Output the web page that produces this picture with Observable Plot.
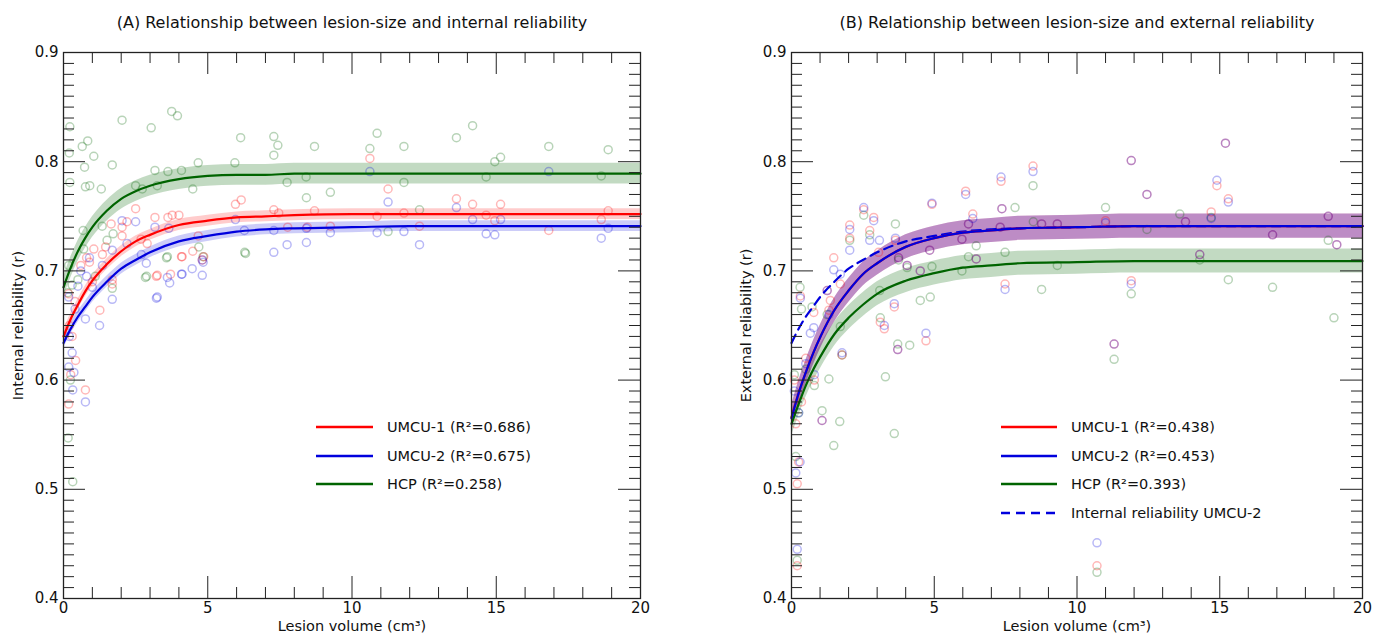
<!DOCTYPE html>
<html><head><meta charset="utf-8">
<script src="https://cdn.jsdelivr.net/npm/d3@7"></script>
<script src="https://cdn.jsdelivr.net/npm/@observablehq/plot@0.6"></script>
<style>
html,body{margin:0;padding:0;background:#fff;}
#wrap{position:relative;width:1373px;height:634px;display:flex;font-family:"DejaVu Sans",sans-serif;}
#wrap svg{display:block;}
#overlay{position:absolute;left:0;top:0;pointer-events:none;}
</style></head><body><div id="wrap"></div>
<script>
// ---------- data ----------
const titles = ["(A) Relationship between lesion-size and internal reliability",
                "(B) Relationship between lesion-size and external reliability"];
const xLabel = "Lesion volume (cm³)";
const yLabels = ["Internal reliability (r)", "External reliability (r)"];
const xTickLabels = [0, 5, 10, 15, 20];
const yTickLabels = [0.4, 0.5, 0.6, 0.7, 0.8, 0.9];

const legendA = ["UMCU-1 (R²=0.686)", "UMCU-2 (R²=0.675)", "HCP (R²=0.258)"];
const legendB = ["UMCU-1 (R²=0.438)", "UMCU-2 (R²=0.453)", "HCP (R²=0.393)", "Internal reliability UMCU-2"];

// scatter: [lesion volume, reliability]
const intUMCU1 = [[2.5,0.757],[3.17,0.749],[3.62,0.749],[3.77,0.751],[4.0,0.751],[1.65,0.743],[2.03,0.740],[2.03,0.732],[2.69,0.729],[1.46,0.722],[1.05,0.720],[5.96,0.761],[6.16,0.765],[7.29,0.756],[7.46,0.753],[8.7,0.755],[8.45,0.740],[7.77,0.740],[9.25,0.741],[4.11,0.713],[4.48,0.718],[4.67,0.732],[4.86,0.713],[3.25,0.696],[3.71,0.697],[1.26,0.664],[1.69,0.688],[0.42,0.618],[0.76,0.591],[0.18,0.578],[1.69,0.692],[3.22,0.695],[4.09,0.713],[4.81,0.710],[0.18,0.679],[10.62,0.803],[10.87,0.750],[11.8,0.753],[11.25,0.775],[12.34,0.741],[13.62,0.766],[14.18,0.761],[14.65,0.751],[14.95,0.746],[15.15,0.761],[16.82,0.737],[18.88,0.755],[18.64,0.747],[0.3,0.640],[0.25,0.605],[0.6,0.705],[0.8,0.712],[0.9,0.708],[0.4,0.672],[1.0,0.690],[1.35,0.715],[2.2,0.745],[2.9,0.725],[0.2,0.650]];
const intUMCU2 = [[2.03,0.746],[2.5,0.745],[3.17,0.740],[3.65,0.739],[1.69,0.719],[2.87,0.707],[3.25,0.676],[3.6,0.694],[4.11,0.697],[4.46,0.702],[4.81,0.696],[4.84,0.708],[1.69,0.674],[5.96,0.747],[6.27,0.737],[7.29,0.737],[7.29,0.717],[7.75,0.724],[8.42,0.726],[8.42,0.739],[9.25,0.735],[0.18,0.612],[0.36,0.607],[0.32,0.591],[0.76,0.580],[1.25,0.650],[0.76,0.656],[3.22,0.675],[3.68,0.689],[4.09,0.697],[4.81,0.710],[0.18,0.676],[10.62,0.791],[10.87,0.735],[11.8,0.736],[11.25,0.763],[12.34,0.724],[13.62,0.758],[14.18,0.747],[14.65,0.734],[14.95,0.733],[15.15,0.747],[16.82,0.791],[18.88,0.739],[18.64,0.730],[0.6,0.700],[0.8,0.695],[0.4,0.665],[1.0,0.685],[1.35,0.705],[0.2,0.640],[0.9,0.712],[2.2,0.725],[2.7,0.715],[0.5,0.686],[0.3,0.625]];
const intHCP = [[0.22,0.832],[0.84,0.819],[0.65,0.814],[1.05,0.805],[0.73,0.795],[1.69,0.797],[0.22,0.781],[0.76,0.777],[0.91,0.778],[1.31,0.775],[2.03,0.838],[3.04,0.831],[2.5,0.778],[2.73,0.775],[3.25,0.778],[3.17,0.792],[3.62,0.791],[3.75,0.846],[3.95,0.842],[4.09,0.792],[4.67,0.799],[4.48,0.775],[6.14,0.822],[5.94,0.799],[7.29,0.823],[7.43,0.815],[7.29,0.806],[8.7,0.814],[7.75,0.781],[8.41,0.786],[9.25,0.772],[8.42,0.767],[6.28,0.717],[3.6,0.713],[2.88,0.695],[1.72,0.734],[1.51,0.728],[1.34,0.741],[0.68,0.737],[4.69,0.722],[4.84,0.713],[1.69,0.684],[0.7,0.720],[10.62,0.812],[10.87,0.826],[11.8,0.814],[11.8,0.781],[11.25,0.736],[12.34,0.756],[13.62,0.822],[14.18,0.833],[14.65,0.786],[14.95,0.800],[15.15,0.804],[16.82,0.814],[18.88,0.811],[18.64,0.787],[0.24,0.600],[0.16,0.547],[0.32,0.507],[0.18,0.705],[0.2,0.808],[0.15,0.680],[0.3,0.687],[2.84,0.694],[3.57,0.712],[6.31,0.716],[1.1,0.695],[0.5,0.692]];

const extUMCU1 = [[2.53,0.756],[4.92,0.761],[2.88,0.749],[2.04,0.742],[2.04,0.730],[2.74,0.737],[3.64,0.728],[3.05,0.717],[1.48,0.712],[1.71,0.688],[1.25,0.682],[0.31,0.677],[1.36,0.673],[0.78,0.662],[1.31,0.664],[1.77,0.623],[1.07,0.563],[3.11,0.653],[3.25,0.647],[3.6,0.667],[3.72,0.628],[4.71,0.636],[4.05,0.705],[4.51,0.700],[4.84,0.719],[3.75,0.712],[5.97,0.729],[6.47,0.711],[6.35,0.752],[6.2,0.743],[7.37,0.757],[7.48,0.688],[7.31,0.740],[8.76,0.743],[9.31,0.743],[8.46,0.796],[7.34,0.782],[6.1,0.773],[11.9,0.801],[12.45,0.770],[14.9,0.778],[15.2,0.817],[15.3,0.766],[11.3,0.633],[11.9,0.691],[14.3,0.715],[14.7,0.754],[16.85,0.733],[18.8,0.750],[19.1,0.724],[11.0,0.746],[13.8,0.745],[10.7,0.430],[0.2,0.505],[0.25,0.525],[0.15,0.56],[0.35,0.58],[0.1,0.60],[0.2,0.43],[0.8,0.60],[0.5,0.62]];
const extUMCU2 = [[2.53,0.758],[4.92,0.762],[2.88,0.746],[2.04,0.738],[2.04,0.719],[2.74,0.728],[3.08,0.728],[3.64,0.730],[1.48,0.701],[1.71,0.697],[1.25,0.682],[0.31,0.675],[0.78,0.648],[0.66,0.643],[1.31,0.660],[1.77,0.625],[1.07,0.563],[3.6,0.670],[3.72,0.628],[4.71,0.643],[4.05,0.705],[4.51,0.700],[4.84,0.719],[3.75,0.712],[5.97,0.729],[6.47,0.711],[6.35,0.748],[6.2,0.743],[7.37,0.757],[7.48,0.683],[7.31,0.740],[8.76,0.743],[9.31,0.743],[8.46,0.791],[7.34,0.786],[6.1,0.770],[11.9,0.801],[12.45,0.770],[14.9,0.783],[15.2,0.817],[15.3,0.763],[11.3,0.633],[11.9,0.688],[14.3,0.715],[14.7,0.748],[16.85,0.733],[18.8,0.750],[19.1,0.724],[11.0,0.744],[13.8,0.745],[10.7,0.451],[0.2,0.445],[0.3,0.525],[0.15,0.515],[0.25,0.57],[0.1,0.59],[0.8,0.605],[0.5,0.615],[3.25,0.650]];
const extHCP = [[2.04,0.728],[3.64,0.743],[2.74,0.733],[3.09,0.682],[3.11,0.657],[3.29,0.603],[3.72,0.633],[4.14,0.632],[3.6,0.551],[4.51,0.673],[4.86,0.676],[4.05,0.703],[4.92,0.704],[3.75,0.710],[6.47,0.723],[6.2,0.713],[7.83,0.758],[7.48,0.717],[8.47,0.745],[9.31,0.705],[8.76,0.683],[8.46,0.778],[0.72,0.667],[1.71,0.649],[1.77,0.623],[1.31,0.601],[1.07,0.572],[1.69,0.562],[1.48,0.540],[11.3,0.619],[11.9,0.679],[15.3,0.692],[14.3,0.710],[14.7,0.749],[16.85,0.685],[18.8,0.728],[19.0,0.657],[11.0,0.758],[13.6,0.752],[10.7,0.424],[12.45,0.738],[0.2,0.435],[0.15,0.53],[0.25,0.57],[0.1,0.605],[0.3,0.685],[0.35,0.665],[0.5,0.61],[0.8,0.595],[2.53,0.751],[5.97,0.70],[1.25,0.66]];

// fitted curves, read at these lesion volumes
const fitX = [0,0.25,0.5,0.75,1,1.5,2,2.5,3,4,5,6,7,8,10,12,14,17,20];
const fitIntUMCU1 = [0.640,0.656,0.669,0.681,0.691,0.706,0.718,0.727,0.733,0.742,0.746,0.749,0.750,0.751,0.752,0.752,0.752,0.752,0.752];
const fitIntUMCU2 = [0.634,0.647,0.658,0.667,0.676,0.690,0.702,0.710,0.717,0.727,0.732,0.736,0.738,0.739,0.740,0.741,0.741,0.741,0.741];
const fitIntHCP   = [0.685,0.703,0.718,0.730,0.740,0.755,0.766,0.773,0.778,0.784,0.787,0.788,0.788,0.789,0.789,0.789,0.789,0.789,0.789];
const fitExtUMCU1 = [0.566,0.588,0.607,0.624,0.639,0.664,0.682,0.697,0.707,0.722,0.730,0.735,0.737,0.739,0.740,0.741,0.741,0.741,0.741];
const fitExtUMCU2 = [0.565,0.588,0.607,0.624,0.639,0.664,0.682,0.697,0.707,0.722,0.730,0.735,0.737,0.739,0.740,0.741,0.741,0.741,0.741];
const fitExtHCP   = [0.560,0.578,0.595,0.609,0.621,0.642,0.657,0.669,0.679,0.691,0.698,0.703,0.705,0.707,0.708,0.709,0.709,0.709,0.709];
// half-width of the shaded confidence bands
const bandIntUMCU1 = 0.005, bandIntUMCU2 = 0.005, bandIntHCP = 0.0095;
const bandExtUMCU1 = 0.011, bandExtUMCU2 = 0.011, bandExtHCP = 0.011;

// ---------- drawing ----------
const RED = "#ff0000", BLUE = "#0000dd", GREEN = "#006400";
const H = 634, MT = 52, MB = 36, FRAME_H = H - MT - MB;
const FONT = '"DejaVu Sans", sans-serif';

const toRows = ys => fitX.map((x, i) => ({x, y: ys[i]}));

function panel({width, ml, mr, title, ylabel, series, bandOpacity, dashed}) {
  const minorX = d3.range(1, 20).filter(v => v % 5 !== 0);
  const majorX = [5, 10, 15];
  const minorY = d3.range(41, 90).filter(v => v % 10 !== 0).map(v => v / 100);
  const majorY = [0.5, 0.6, 0.7, 0.8];
  const FW = width - ml - mr;
  const tick = "#222";
  const marks = [];
  for (const s of series) {
    marks.push(Plot.areaY(toRows(s.fit), {x: "x", y1: d => d.y - s.band, y2: d => d.y + s.band,
      fill: s.color, fillOpacity: bandOpacity[s.key], curve: "monotone-x"}));
  }
  for (const s of series) {
    marks.push(Plot.dot(s.pts, {x: d => d[0], y: d => d[1], r: 4, stroke: s.color,
      strokeOpacity: 0.28, strokeWidth: 1.5, fill: "none"}));
  }
  if (dashed) {
    marks.push(Plot.line(toRows(dashed.fit), {x: "x", y: "y", stroke: dashed.color, strokeWidth: 2.2,
      strokeDasharray: "9,6", curve: "monotone-x"}));
  }
  for (const s of series) {
    marks.push(Plot.line(toRows(s.fit), {x: "x", y: "y", stroke: s.color, strokeWidth: 2.2, curve: "monotone-x"}));
  }
  marks.push(
    // inward ticks on all four sides
    Plot.ruleX(minorX, {stroke: tick, insetTop: FRAME_H - 11}),
    Plot.ruleX(majorX, {stroke: tick, insetTop: FRAME_H - 22}),
    Plot.ruleX(minorX, {stroke: tick, insetBottom: FRAME_H - 11}),
    Plot.ruleX(majorX, {stroke: tick, insetBottom: FRAME_H - 22}),
    Plot.ruleY(minorY, {stroke: tick, insetRight: FW - 11}),
    Plot.ruleY(majorY, {stroke: tick, insetRight: FW - 22}),
    Plot.ruleY(minorY, {stroke: tick, insetLeft: FW - 11}),
    Plot.ruleY(majorY, {stroke: tick, insetLeft: FW - 22}),
    Plot.frame({stroke: tick, strokeWidth: 1.3}),
    Plot.axisX({ticks: xTickLabels, tickSize: 0, tickPadding: 4, label: null, fontSize: 15}),
    Plot.axisY({ticks: yTickLabels, tickSize: 0, tickPadding: 5, label: null, fontSize: 15, tickFormat: d3.format(".1f")}),
    Plot.text([title], {frameAnchor: "top", lineAnchor: "middle", dy: -30, fontSize: 16, fill: "#111"}),
    Plot.text([xLabel], {frameAnchor: "bottom", lineAnchor: "middle", dy: 28, fontSize: 14.5, fill: "#111"}),
    Plot.text([ylabel], {frameAnchor: "left", textAnchor: "middle", lineAnchor: "middle", dx: -45, rotate: -90, fontSize: 14.5, fill: "#111"})
  );
  return Plot.plot({
    width, height: H, marginLeft: ml, marginRight: mr, marginTop: MT, marginBottom: MB,
    x: {domain: [0, 20], axis: null},
    y: {domain: [0.4, 0.9], axis: null},
    style: {fontFamily: FONT, fontSize: "15px", background: "white", color: "#111", overflow: "visible"},
    marks
  });
}

const wrap = document.getElementById("wrap");
wrap.append(panel({
  width: 686, ml: 63, mr: 46, title: titles[0], ylabel: yLabels[0],
  bandOpacity: {u1: 0.2, u2: 0.2, hcp: 0.24},
  series: [
    {key: "hcp", pts: intHCP, fit: fitIntHCP, band: bandIntHCP, color: GREEN},
    {key: "u1", pts: intUMCU1, fit: fitIntUMCU1, band: bandIntUMCU1, color: RED},
    {key: "u2", pts: intUMCU2, fit: fitIntUMCU2, band: bandIntUMCU2, color: BLUE}
  ]
}));
wrap.append(panel({
  width: 687, ml: 105, mr: 11, title: titles[1], ylabel: yLabels[1],
  bandOpacity: {u1: 0.26, u2: 0.26, hcp: 0.24},
  series: [
    {key: "hcp", pts: extHCP, fit: fitExtHCP, band: bandExtHCP, color: GREEN},
    {key: "u1", pts: extUMCU1, fit: fitExtUMCU1, band: bandExtUMCU1, color: RED},
    {key: "u2", pts: extUMCU2, fit: fitExtUMCU2, band: bandExtUMCU2, color: BLUE}
  ],
  dashed: {fit: fitIntUMCU2, color: BLUE}
}));

// legends (overlay)
const ov = d3.select(wrap).append("svg").attr("id", "overlay").attr("width", 1373).attr("height", H)
  .style("font-family", FONT).style("font-size", "14.5px");
function legend(items, colors, dashes, x1, x2, tx, ys) {
  items.forEach((t, i) => {
    ov.append("line").attr("x1", x1).attr("x2", x2).attr("y1", ys[i]).attr("y2", ys[i])
      .attr("stroke", colors[i]).attr("stroke-width", 2.5).attr("stroke-dasharray", dashes[i] || null);
    ov.append("text").attr("x", tx).attr("y", ys[i]).attr("dy", "0.35em").attr("fill", "#111").text(t);
  });
}
legend(legendA, [RED, BLUE, GREEN], [], 316, 373, 387, [427, 456, 484]);
legend(legendB, [RED, BLUE, GREEN, BLUE], [null, null, null, "9,6"], 1001, 1057, 1071, [427, 456, 484, 513]);
</script>
</body></html>
